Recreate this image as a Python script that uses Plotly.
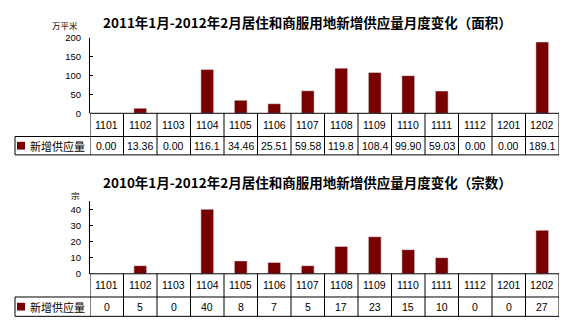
import plotly.graph_objects as go

months = ["1101", "1102", "1103", "1104", "1105", "1106", "1107",
          "1108", "1109", "1110", "1111", "1112", "1201", "1202"]
area_values = [0.00, 13.36, 0.00, 116.1, 34.46, 25.51, 59.58,
               119.8, 108.4, 99.90, 59.03, 0.00, 0.00, 189.1]
count_values = [0, 5, 0, 40, 8, 7, 5, 17, 23, 15, 10, 0, 0, 27]
area_ticks = [0, 50, 100, 150, 200]
count_ticks = [0, 10, 20, 30, 40]
series_name = "新增供应量"
title_area = "2011年1月-2012年2月居住和商服用地新增供应量月度变化（面积）"
title_count = "2010年1月-2012年2月居住和商服用地新增供应量月度变化（宗数）"
unit_area = "万平米"
unit_count = "宗"

W, H = 575, 331
BAR = "#780000"
TXT = "Liberation Sans"
CJK = "Noto Sans CJK SC"


def px(x):
    return x / W


def py(y):
    return 1 - y / H


def fmt_area(v):
    return f"{v:.1f}" if v >= 100 else f"{v:.2f}"


fig = go.Figure()
fig.add_trace(go.Bar(x=months, y=area_values, marker_color=BAR, xaxis="x", yaxis="y",
                     showlegend=False, width=0.38))
fig.add_trace(go.Bar(x=months, y=count_values, marker_color=BAR, xaxis="x2", yaxis="y2",
                     showlegend=False, width=0.38))

x0, x1 = 90, 559
left = 15
panels = [
    dict(xa="x", top=33, zero=111, hdr=135, val=154, unit=unit_area, ux=65, uy=20,
         vals=area_values, fmt=fmt_area),
    dict(xa="x2", top=202, zero=277, hdr=301, val=321, unit=unit_count, ux=75, uy=195,
         vals=count_values, fmt=lambda v: str(v)),
]

shapes = []
annotations = []
line = dict(color="black", width=1)
for p in panels:
    shapes.append(dict(type="line", xref="paper", yref="paper", x0=px(x0), x1=px(x1),
                       y0=py(p["zero"]), y1=py(p["zero"]), line=line))
    shapes.append(dict(type="line", xref="paper", yref="paper", x0=px(left), x1=px(x1),
                       y0=py(p["hdr"]), y1=py(p["hdr"]), line=line))
    shapes.append(dict(type="line", xref="paper", yref="paper", x0=px(left), x1=px(x1),
                       y0=py(p["val"]), y1=py(p["val"]), line=line))
    shapes.append(dict(type="line", xref="paper", yref="paper", x0=px(left), x1=px(left),
                       y0=py(p["hdr"]), y1=py(p["val"]), line=line))
    for i in range(len(months) + 1):
        shapes.append(dict(type="line", xref=p["xa"], yref="paper", x0=i - 0.5, x1=i - 0.5,
                           y0=py(p["zero"]), y1=py(p["val"]), line=line))
    mid = (p["hdr"] + p["val"]) / 2
    shapes.append(dict(type="rect", xref="paper", yref="paper", x0=px(17), x1=px(25),
                       y0=py(mid + 4), y1=py(mid - 4),
                       fillcolor=BAR, line=dict(width=0)))
    annotations.append(dict(text=series_name, xref="paper", yref="paper", x=px(28),
                            y=py(mid), xanchor="left", yanchor="middle",
                            showarrow=False, font=dict(family=CJK, size=11, color="black")))
    for i, (m, v) in enumerate(zip(months, p["vals"])):
        annotations.append(dict(text=m, xref=p["xa"], yref="paper", x=i,
                                y=py((p["zero"] + p["hdr"]) / 2), xanchor="center", yanchor="middle",
                                showarrow=False, font=dict(family=TXT, size=10.5, color="black")))
        annotations.append(dict(text=p["fmt"](v), xref=p["xa"], yref="paper", x=i,
                                y=py(mid), xanchor="center", yanchor="middle",
                                showarrow=False, font=dict(family=TXT, size=10.5, color="black")))
    annotations.append(dict(text=p["unit"], xref="paper", yref="paper", x=px(p["ux"]), y=py(p["uy"]),
                            xanchor="center", yanchor="middle", showarrow=False,
                            font=dict(family=CJK, size=8.5, color="black")))

annotations.append(dict(text=f"<b>{title_area}</b>", xref="paper", yref="paper", x=px(307), y=py(17),
                        xanchor="center", yanchor="middle", showarrow=False,
                        font=dict(family=CJK, size=13.5, color="black")))
annotations.append(dict(text=f"<b>{title_count}</b>", xref="paper", yref="paper", x=px(307), y=py(182),
                        xanchor="center", yanchor="middle", showarrow=False,
                        font=dict(family=CJK, size=13.5, color="black")))

xcommon = dict(type="category", range=[-0.5, len(months) - 0.5], showticklabels=False,
               showgrid=False, zeroline=False, showline=False, ticks="", fixedrange=True)
ycommon = dict(showgrid=False, zeroline=False, showline=True, linecolor="black", linewidth=1,
               ticks="inside", ticklen=3, tickcolor="black", ticklabelstandoff=6,
               tickfont=dict(family=TXT, size=9.5, color="black"))

fig.update_layout(
    width=W, height=H,
    margin=dict(l=0, r=0, t=0, b=0),
    paper_bgcolor="white", plot_bgcolor="white",
    xaxis=dict(domain=[px(x0), px(x1)], anchor="y", **xcommon),
    yaxis=dict(domain=[py(111), py(33)], anchor="x", range=[0, 200], tickvals=area_ticks, **ycommon),
    xaxis2=dict(domain=[px(x0), px(x1)], anchor="y2", **xcommon),
    yaxis2=dict(domain=[py(277), py(202)], anchor="x2", range=[0, 45], tickvals=count_ticks, **ycommon),
    shapes=shapes,
    annotations=annotations,
    bargap=0.6,
)

fig.write_html("out.html")
